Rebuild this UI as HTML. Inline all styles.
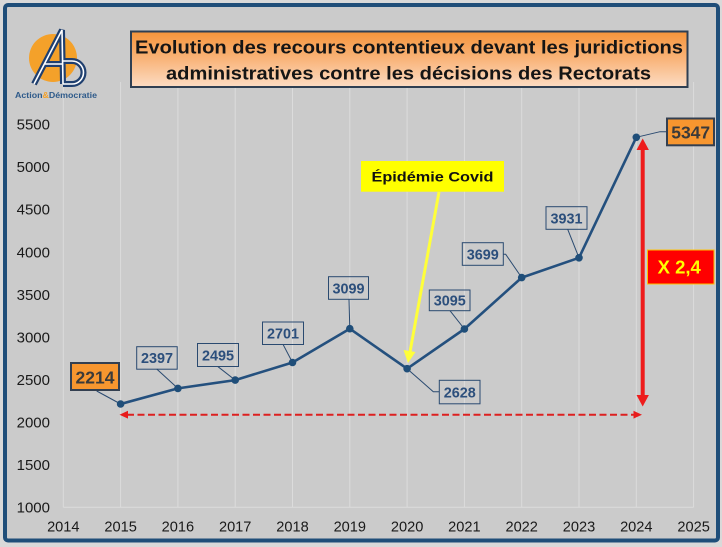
<!DOCTYPE html>
<html><head><meta charset="utf-8"><style>
html,body{margin:0;padding:0;background:#d9d9d9;}
svg{display:block;}
text{font-family:"Liberation Sans",Arial,sans-serif;}
</style></head><body>
<svg width="722" height="547" viewBox="0 0 722 547" xmlns="http://www.w3.org/2000/svg">
<defs>
<linearGradient id="tg" x1="0" y1="0" x2="0" y2="1">
<stop offset="0" stop-color="#f6943a"/>
<stop offset="0.5" stop-color="#f9b47a"/>
<stop offset="1" stop-color="#fcdcc4"/>
</linearGradient>
</defs>
<rect x="0" y="0" width="722" height="547" fill="#d9d9d9"/>
<rect x="5" y="5" width="713" height="535.5" rx="3" fill="#cbcbcb" stroke="#1f4e79" stroke-width="4"/>

<!-- gridlines -->
<g stroke="#dcdcdc" stroke-width="1">
<line x1="63.3" y1="82" x2="63.3" y2="507.3"/>
<line x1="120.6" y1="82" x2="120.6" y2="507.3"/>
<line x1="177.9" y1="82" x2="177.9" y2="507.3"/>
<line x1="235.2" y1="82" x2="235.2" y2="507.3"/>
<line x1="292.5" y1="82" x2="292.5" y2="507.3"/>
<line x1="349.8" y1="82" x2="349.8" y2="507.3"/>
<line x1="407.1" y1="82" x2="407.1" y2="507.3"/>
<line x1="464.4" y1="82" x2="464.4" y2="507.3"/>
<line x1="521.7" y1="82" x2="521.7" y2="507.3"/>
<line x1="579.0" y1="82" x2="579.0" y2="507.3"/>
<line x1="636.3" y1="82" x2="636.3" y2="507.3"/>
<line x1="693.6" y1="82" x2="693.6" y2="507.3"/>
<line x1="63.3" y1="507.3" x2="693.6" y2="507.3"/>
</g>

<!-- y labels -->
<g font-size="15" fill="#1a1a1a" text-anchor="end">
<text x="50" y="512.6">1000</text>
<text x="50" y="470">1500</text>
<text x="50" y="427.4">2000</text>
<text x="50" y="384.9">2500</text>
<text x="50" y="342.4">3000</text>
<text x="50" y="299.8">3500</text>
<text x="50" y="257.3">4000</text>
<text x="50" y="214.7">4500</text>
<text x="50" y="172.2">5000</text>
<text x="50" y="129.6">5500</text>
</g>
<!-- x labels -->
<g font-size="14.6" fill="#1a1a1a" text-anchor="middle">
<text x="63.3" y="531.5">2014</text>
<text x="120.6" y="531.5">2015</text>
<text x="177.9" y="531.5">2016</text>
<text x="235.2" y="531.5">2017</text>
<text x="292.5" y="531.5">2018</text>
<text x="349.8" y="531.5">2019</text>
<text x="407.1" y="531.5">2020</text>
<text x="464.4" y="531.5">2021</text>
<text x="521.7" y="531.5">2022</text>
<text x="579.0" y="531.5">2023</text>
<text x="636.3" y="531.5">2024</text>
<text x="693.6" y="531.5">2025</text>
</g>

<!-- red dashed horizontal arrow -->
<line x1="127" y1="414.7" x2="634" y2="414.7" stroke="#dd2020" stroke-width="2" stroke-dasharray="7,3.5"/>
<polygon points="119.5,414.7 128,410.8 128,418.6" fill="#e81c1c"/>
<polygon points="642,414.7 633.5,410.8 633.5,418.6" fill="#e81c1c"/>

<!-- red vertical double arrow -->
<line x1="642.7" y1="148" x2="642.7" y2="397" stroke="#ee1c1c" stroke-width="4"/>
<polygon points="642.7,138.5 636.5,150 648.9,150" fill="#ee1c1c"/>
<polygon points="642.7,406.5 636.5,395 648.9,395" fill="#ee1c1c"/>

<!-- leader lines -->
<g stroke="#2a4a70" stroke-width="1" fill="none">
<line x1="96.7" y1="391" x2="120.6" y2="404"/>
<line x1="156.7" y1="369" x2="177.9" y2="388.4"/>
<line x1="218" y1="366.7" x2="235.2" y2="380.1"/>
<line x1="283" y1="344.3" x2="292.5" y2="362.5"/>
<line x1="349" y1="299.3" x2="349.8" y2="328.7"/>
<polyline points="407.1,368.7 433.3,391.7 439.3,391.7"/>
<line x1="450" y1="310.7" x2="464.4" y2="329"/>
<polyline points="503.3,254.3 505.7,254.3 521.7,277.6"/>
<line x1="567.7" y1="229.3" x2="579" y2="257.8"/>
<polyline points="636.3,137.3 660,131.7 666.7,131.7"/>
</g>

<!-- data line -->
<polyline points="120.6,404 177.9,388.4 235.2,380.1 292.5,362.5 349.8,328.7 407.1,368.7 464.4,329 521.7,277.6 579,257.8 636.3,137.3" fill="none" stroke="#24507e" stroke-width="2.6" stroke-linejoin="round"/>
<g fill="#1f4e79">
<circle cx="120.6" cy="404" r="3.8"/>
<circle cx="177.9" cy="388.4" r="3.8"/>
<circle cx="235.2" cy="380.1" r="3.8"/>
<circle cx="292.5" cy="362.5" r="3.8"/>
<circle cx="349.8" cy="328.7" r="3.8"/>
<circle cx="407.1" cy="368.7" r="3.8"/>
<circle cx="464.4" cy="329" r="3.8"/>
<circle cx="521.7" cy="277.6" r="3.8"/>
<circle cx="579" cy="257.8" r="3.8"/>
<circle cx="636.3" cy="137.3" r="3.8"/>
</g>

<!-- data label boxes -->
<g fill="none" stroke="#2a4a70" stroke-width="1">
<rect x="136.7" y="346.7" width="40.5" height="22.5"/>
<rect x="197.5" y="343.5" width="41" height="23"/>
<rect x="262.5" y="322" width="41" height="22.5"/>
<rect x="328.5" y="276.7" width="40" height="22.6"/>
<rect x="439.3" y="380.3" width="40.7" height="23.5"/>
<rect x="429.3" y="290" width="40.7" height="20.7"/>
<rect x="462.3" y="242.7" width="41" height="22.6"/>
<rect x="546" y="206.7" width="41" height="22.6"/>
</g>
<g font-size="14.4" font-weight="bold" fill="#2c4f7c" text-anchor="middle">
<text x="157" y="363.2">2397</text>
<text x="218" y="360.4">2495</text>
<text x="283" y="338.5">2701</text>
<text x="348.5" y="293.3">3099</text>
<text x="459.7" y="397.5">2628</text>
<text x="449.7" y="305.6">3095</text>
<text x="482.8" y="259.3">3699</text>
<text x="566.5" y="223.3">3931</text>
</g>

<!-- orange highlight labels -->
<rect x="71" y="363" width="48" height="27" fill="#f7962f" stroke="#333f50" stroke-width="2"/>
<text x="95" y="383.3" font-size="17.5" font-weight="bold" fill="#3a3a3a" text-anchor="middle">2214</text>
<rect x="667" y="118.5" width="47" height="26.8" fill="#f7962f" stroke="#333f50" stroke-width="2"/>
<text x="690.7" y="138.4" font-size="17.5" font-weight="bold" fill="#3a3a3a" text-anchor="middle">5347</text>

<!-- X 2,4 -->
<rect x="647.5" y="250" width="66.5" height="34" fill="#ff0000" stroke="#ffc000" stroke-width="1"/>
<text x="679.2" y="273.3" font-size="18.5" font-weight="bold" fill="#ffff00" text-anchor="middle">X 2,4</text>

<!-- Covid annotation -->
<line x1="439" y1="192" x2="410" y2="352" stroke="#ffff3a" stroke-width="3"/>
<polygon points="408,363 403.5,350 415.5,352" fill="#ffff3a"/>
<rect x="361" y="161" width="143" height="30.7" fill="#ffff00"/>
<text x="432.5" y="181.7" font-size="14" font-weight="bold" fill="#111" text-anchor="middle" textLength="122" lengthAdjust="spacingAndGlyphs">Épidémie Covid</text>

<!-- title -->
<rect x="131" y="31.5" width="556.5" height="55.5" fill="url(#tg)" stroke="#2f3f52" stroke-width="2"/>
<text x="135" y="53.5" font-size="18.5" font-weight="bold" fill="#151515" textLength="548" lengthAdjust="spacingAndGlyphs">Evolution des recours contentieux devant les juridictions</text>
<text x="166" y="79.5" font-size="18.5" font-weight="bold" fill="#151515" textLength="485" lengthAdjust="spacingAndGlyphs">administratives contre les décisions des Rectorats</text>

<!-- logo -->
<circle cx="53" cy="58" r="24" fill="#f4a12a"/>
<g fill="none" stroke-linejoin="miter">
<path d="M34,84 L62,30 L63,84 M45,64 L63,64" stroke="#1f3f6f" stroke-width="6"/>
<path d="M63,61 L72,61 A11.5,11.5 0 0 1 72,84 L63,84" stroke="#1f3f6f" stroke-width="6"/>
<path d="M34,84 L62,30 L63,84 M45,64 L63,64" stroke="#ffffff" stroke-width="1.6"/>
<path d="M63,61 L72,61 A11.5,11.5 0 0 1 72,84 L63,84" stroke="#ffffff" stroke-width="1.6"/>
</g>
<text x="15" y="97.8" font-size="8.6" font-weight="bold" fill="#2e5a8a" textLength="82" lengthAdjust="spacingAndGlyphs">Action<tspan fill="#f4a12a">&amp;</tspan>Démocratie</text>
</svg>
</body></html>
